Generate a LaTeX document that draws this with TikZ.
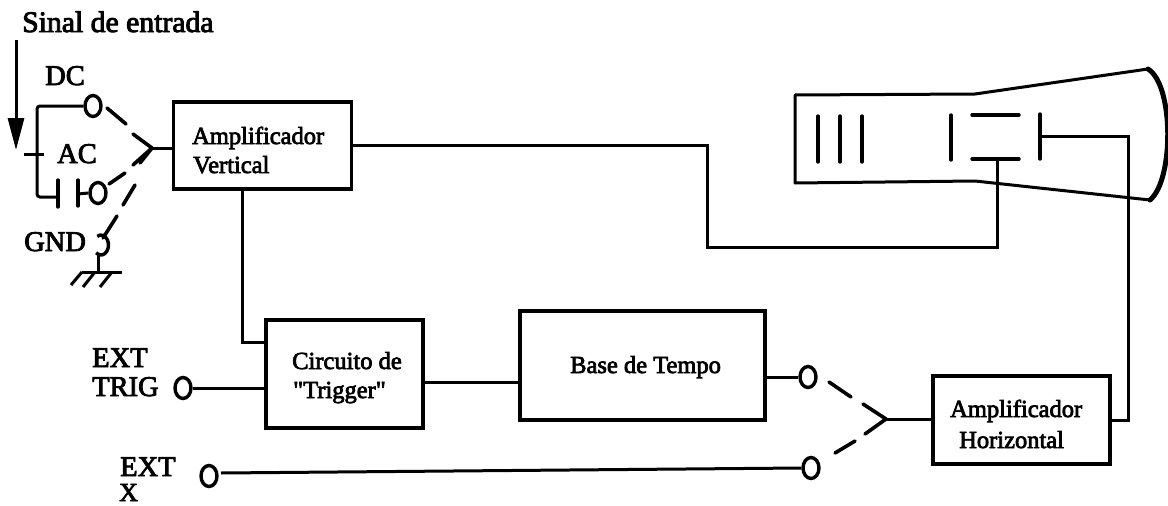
\documentclass[tikz,border=0pt]{standalone}
\usepackage{fontspec}
\setmainfont[FakeBold=3,Ligatures=TeXOff]{Liberation Serif}
\usetikzlibrary{shapes.geometric,calc,arrows.meta}
\tikzset{
  wire/.style={line width=3pt,line join=miter},
  sw/.style={line width=3.6pt,line cap=round},
  plate/.style={line width=3.4pt,line cap=round},
  blockbox/.style={draw,line width=3.4pt,rectangle,inner sep=0pt},
  term/.style={draw,ellipse,line width=3.4pt,minimum width=16pt,minimum height=21pt,inner sep=0pt},
  big/.style={anchor=base west,inner sep=0pt,font=\fontsize{28.5}{30}\selectfont},
  small/.style={anchor=base west,inner sep=0pt,font=\fontsize{24.5}{26}\selectfont},
}
\begin{document}
\begin{tikzpicture}[x=1pt,y=-1pt]
\useasboundingbox (0,0) rectangle (1168,506);
% blocks
\node[blockbox,minimum width=178pt,minimum height=87pt] (vamp) at (262.5,145.5) {};
\node[blockbox,minimum width=157pt,minimum height=108pt] (trig) at (344.5,374) {};
\node[blockbox,minimum width=245pt,minimum height=109pt] (base) at (642.5,365.5) {};
\node[blockbox,minimum width=177pt,minimum height=88pt] (hamp) at (1021.5,420) {};
% block labels
\node[small] (t1) at (192,144) {Amplificador};
\node[small] (t2) at (193,173) {Vertical};
\node[small] (t3) at (292,369) {Circuito de};
\node[small] (t4) at (293,398) {"Trigger"};
\node[small] (t5) at (570,373) {Base de Tempo};
\node[small] (t6) at (950,417) {Amplificador};
\node[small] (t7) at (959,448) {Horizontal};
% other labels
\node[big,font=\fontsize{29.7}{31}\selectfont] (l1) at (22,32) {Sinal de entrada};
\node[big] (l2) at (45,85) {DC};
\node[big] (l3) at (57,163) {AC};
\node[big] (l4) at (24,251) {GND};
\node[big] (l5) at (92,367) {EXT};
\node[big] (l6) at (92,396) {TRIG};
\node[big] (l7) at (120,476) {EXT};
\node[big,font=\fontsize{26}{28}\selectfont] (l8) at (119,501) {X};
% terminals
\node[term] (dc) at (93,106) {};
\node[term] (ac) at (98,193) {};
\node[term,draw=none] (gnd) at (101,245) {};
\node[term] (etrig) at (183,388) {};
\node[term] (ex) at (209,476) {};
\node[term] (tb) at (808,377) {};
\node[term] (xb) at (811,468) {};
% junction and helper points
\coordinate (jv) at (152,148);
\coordinate (jh) at (886,419);
\coordinate (dca) at (37,106);
\coordinate (acb) at (37,197);
\coordinate (capl) at (58,197);
\coordinate (capr) at (78,194);
\coordinate (gtop) at (98,255);
\coordinate (gbot) at (98,272);
\coordinate (p3) at (997,159);
\coordinate (p4) at (1040,136);
% input arrow
\coordinate (ina) at (16,40);
\coordinate (inb) at (16,150);
\draw[line width=3pt,-{Triangle[length=32pt,width=16pt]}] (ina) -- (inb);
% input network
\draw[wire] (24,154) -- (44,154);
\draw[wire,rounded corners=3pt] (dc.west) -- (dca) -- (acb) -- (capl);
\draw[plate] (58,180) -- (58,207);
\draw[plate] (78,180) -- (78,206);
\draw[wire] (capr) -- (ac.west);
\draw[line width=3.4pt] ($(gnd)+(-3.75,-8.66)$) arc[start angle=120,end angle=-130,x radius=7.5pt,y radius=10pt];
\draw[wire] (gtop) -- (gbot);
\draw[wire] (82,272) -- (122,272);
\draw[wire] (82,272) -- (71,285);
\draw[wire] (95,272) -- (83,287);
\draw[wire] (112,272) -- (100,287);
% input switch
\draw[sw] (107,108) -- (126,124);
\draw[sw] (133,134) -- (jv);
\draw[sw] (109,184) -- (125,173);
\draw[sw] (133,165) -- (jv);
\draw[sw] (jv) -- (140,163);
\draw[sw] (135,185) -- (123,205);
\draw[sw] (117,216) -- (103,238);
\draw[wire] (jv) -- (jv -| vamp.west);
% tube
\draw[line width=3pt,line join=round] (1148,69) -- (975,94) -- (795,95) -- (795,183) -- (975,181) -- (1150,200);
\draw[line width=5pt,line cap=round] (1148,69) .. controls (1174,85) and (1174,180) .. (1150,200);
% guns and plates
\draw[plate] (818,116) -- (818,162);
\draw[plate] (840,116) -- (840,162);
\draw[plate] (862,116) -- (862,162);
\draw[plate] (951,115) -- (951,160);
\draw[plate] (972,115) -- (1019,115);
\draw[plate] (972,159) -- (1019,159);
\draw[plate] (1040,114) -- (1040,159);
% signal wires
\draw[wire] (vamp.east) -- (707,145.5) |- (997,247) -- (p3);
\draw[wire] (p4) -- (1128,136) |- (hamp.east);
\draw[wire] (vamp.south -| 242,0) -- (242,342) -- (242,342 -| trig.west);
\draw[wire] (etrig.east) -- (etrig.east -| trig.west);
\draw[wire] (trig.east |- 0,382) -- (base.west |- 0,382);
\draw[wire] (base.east |- tb) -- (tb.west);
\draw[wire] (221,473) -- (xb.west);
% time-base switch
\draw[sw] (829,382) -- (851,397);
\draw[sw] (863,404) -- (jh);
\draw[sw] (jh) -- (865,434);
\draw[sw] (855,441) -- (835,453);
\draw[wire] (jh) -- (jh -| hamp.west);
\end{tikzpicture}
\end{document}
